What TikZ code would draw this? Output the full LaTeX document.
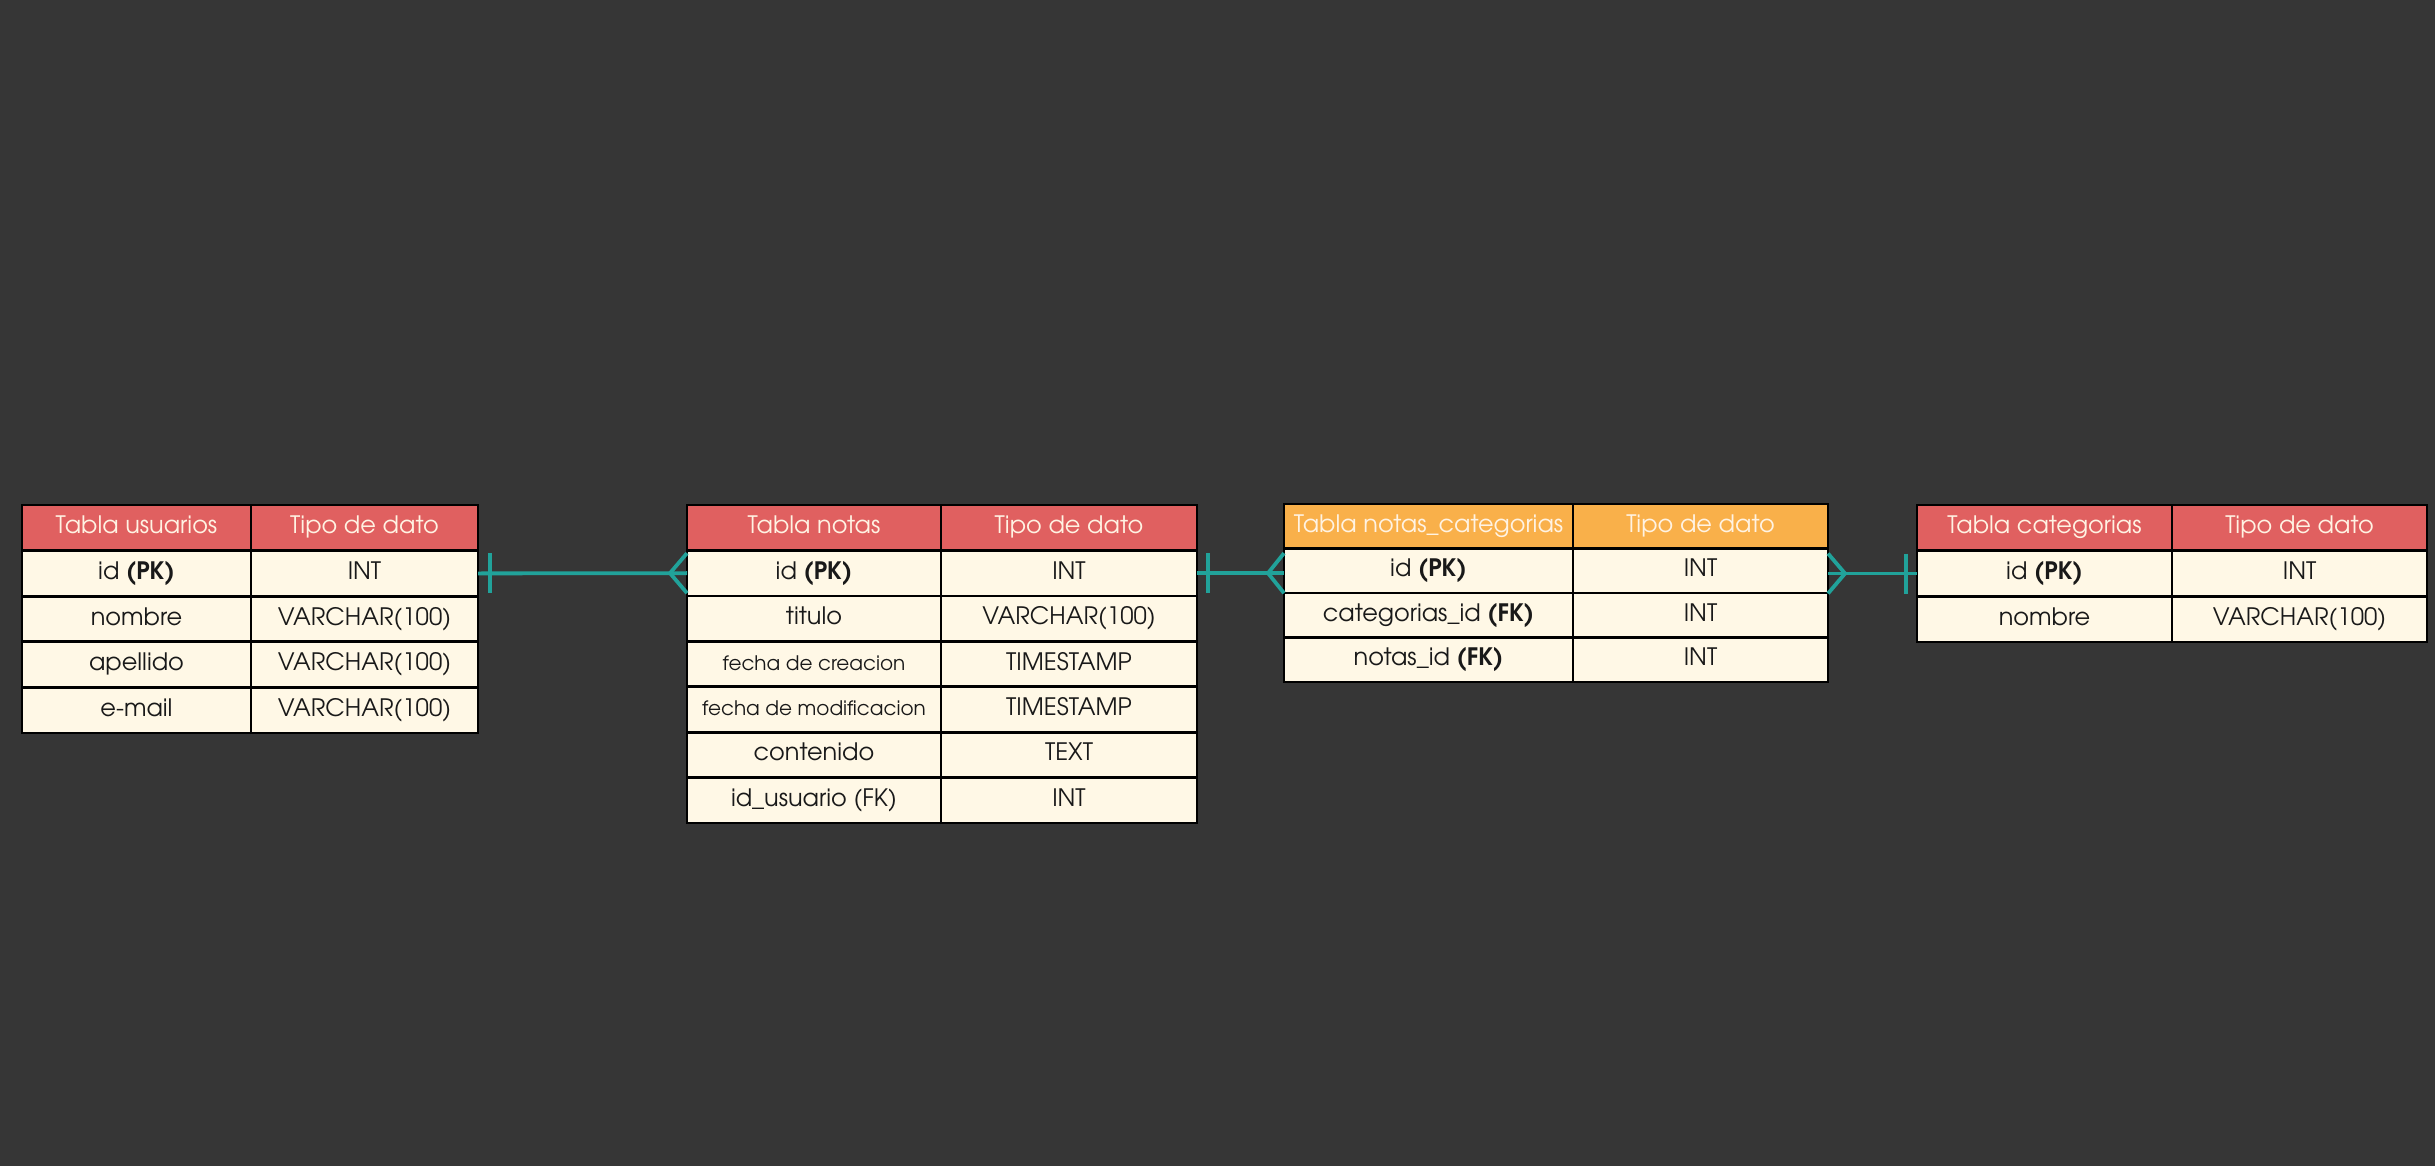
\documentclass[tikz,border=0pt]{standalone}
\usepackage{fontspec}
\setmainfont{TeX Gyre Adventor}
\definecolor{bg}{HTML}{363636}
\definecolor{hdr}{HTML}{E06060}
\definecolor{hdro}{HTML}{F9B04A}
\definecolor{cellc}{HTML}{FFF8E6}
\definecolor{htext}{HTML}{FFF3E3}
\definecolor{relc}{HTML}{21A29A}
\tikzset{
  cellbase/.style={draw=black, line width=2.7pt, inner sep=0pt, outer sep=0pt,
    anchor=north west, align=center, text height=17pt, text depth=5pt,
    font=\fontsize{24}{28}\selectfont},
  bodycell/.style={cellbase, fill=cellc, text=black!90},
  hcell/.style={cellbase, fill=hdr, text=htext},
  ocell/.style={cellbase, fill=hdro, text=htext},
  smalltxt/.style={font=\fontsize{20}{24}\selectfont},
  relline/.style={draw=relc, line width=3.8pt},
  ut/.style={minimum height=45.6pt},
  nt/.style={minimum height=45.43pt},
  ct/.style={minimum height=44.5pt},
  kt/.style={minimum height=45.67pt},
}
\begin{document}
\begin{tikzpicture}[x=1pt,y=-1pt]
\fill[bg] (0,0) rectangle (2435,1166);
\useasboundingbox (0,0) rectangle (2435,1166);

% Tabla usuarios
\node[hcell,ut,minimum width=229pt] (u0a) at (22,505) {Tabla usuarios};
\node[hcell,ut,minimum width=227pt] (u0b) at (251,505) {Tipo de dato};
\node[bodycell,ut,minimum width=229pt] (u1a) at (22,550.6) {id \textbf{(PK)}};
\node[bodycell,ut,minimum width=227pt] (u1b) at (251,550.6) {INT};
\node[bodycell,ut,minimum width=229pt] (u2a) at (22,596.2) {nombre};
\node[bodycell,ut,minimum width=227pt] (u2b) at (251,596.2) {VARCHAR(100)};
\node[bodycell,ut,minimum width=229pt] (u3a) at (22,641.8) {apellido};
\node[bodycell,ut,minimum width=227pt] (u3b) at (251,641.8) {VARCHAR(100)};
\node[bodycell,ut,minimum width=229pt] (u4a) at (22,687.4) {e-mail};
\node[bodycell,ut,minimum width=227pt] (u4b) at (251,687.4) {VARCHAR(100)};

% Tabla notas
\node[hcell,nt,minimum width=254pt] (n0a) at (687,505) {Tabla notas};
\node[hcell,nt,minimum width=256pt] (n0b) at (941,505) {Tipo de dato};
\node[bodycell,nt,minimum width=254pt] (n1a) at (687,550.43) {id \textbf{(PK)}};
\node[bodycell,nt,minimum width=256pt] (n1b) at (941,550.43) {INT};
\node[bodycell,nt,minimum width=254pt] (n2a) at (687,595.86) {titulo};
\node[bodycell,nt,minimum width=256pt] (n2b) at (941,595.86) {VARCHAR(100)};
\node[bodycell,nt,minimum width=254pt,smalltxt] (n3a) at (687,641.29) {fecha de creacion};
\node[bodycell,nt,minimum width=256pt] (n3b) at (941,641.29) {TIMESTAMP};
\node[bodycell,nt,minimum width=254pt,smalltxt] (n4a) at (687,686.72) {fecha de modificacion};
\node[bodycell,nt,minimum width=256pt] (n4b) at (941,686.72) {TIMESTAMP};
\node[bodycell,nt,minimum width=254pt] (n5a) at (687,732.15) {contenido};
\node[bodycell,nt,minimum width=256pt] (n5b) at (941,732.15) {TEXT};
\node[bodycell,nt,minimum width=254pt] (n6a) at (687,777.58) {id\_usuario (FK)};
\node[bodycell,nt,minimum width=256pt] (n6b) at (941,777.58) {INT};

% Tabla notas_categorias
\node[ocell,ct,minimum width=289pt] (c0a) at (1284,504) {Tabla notas\_categorias};
\node[ocell,ct,minimum width=255pt] (c0b) at (1573,504) {Tipo de dato};
\node[bodycell,ct,minimum width=289pt] (c1a) at (1284,548.5) {id \textbf{(PK)}};
\node[bodycell,ct,minimum width=255pt] (c1b) at (1573,548.5) {INT};
\node[bodycell,ct,minimum width=289pt] (c2a) at (1284,593) {categorias\_id \textbf{(FK)}};
\node[bodycell,ct,minimum width=255pt] (c2b) at (1573,593) {INT};
\node[bodycell,ct,minimum width=289pt] (c3a) at (1284,637.5) {notas\_id \textbf{(FK)}};
\node[bodycell,ct,minimum width=255pt] (c3b) at (1573,637.5) {INT};

% Tabla categorias
\node[hcell,kt,minimum width=255pt] (k0a) at (1917,505) {Tabla categorias};
\node[hcell,kt,minimum width=255pt] (k0b) at (2172,505) {Tipo de dato};
\node[bodycell,kt,minimum width=255pt] (k1a) at (1917,550.67) {id \textbf{(PK)}};
\node[bodycell,kt,minimum width=255pt] (k1b) at (2172,550.67) {INT};
\node[bodycell,kt,minimum width=255pt] (k2a) at (1917,596.33) {nombre};
\node[bodycell,kt,minimum width=255pt] (k2b) at (2172,596.33) {VARCHAR(100)};

% usuarios -- notas
\draw[relline] (u1b.east) -- (n1a.west);
\draw[relline] ([xshift=12pt,yshift=20pt]u1b.east) -- ([xshift=12pt,yshift=-20pt]u1b.east);
\draw[relline] ([yshift=20pt]n1a.west) -- ([xshift=-17pt]n1a.west) -- ([yshift=-20pt]n1a.west);

% notas -- notas_categorias
\coordinate (cL) at (n1b.east -| c1a.west);
\draw[relline] (n1b.east) -- (cL);
\draw[relline] ([xshift=11pt,yshift=20pt]n1b.east) -- ([xshift=11pt,yshift=-20pt]n1b.east);
\draw[relline] ([yshift=20pt]cL) -- ([xshift=-16pt]cL) -- ([yshift=-20pt]cL);

% notas_categorias -- categorias
\coordinate (cR) at (k1a.west -| c1b.east);
\draw[relline] (cR) -- (k1a.west);
\draw[relline] ([yshift=20pt]cR) -- ([xshift=17pt]cR) -- ([yshift=-20pt]cR);
\draw[relline] ([xshift=-11pt,yshift=20pt]k1a.west) -- ([xshift=-11pt,yshift=-20pt]k1a.west);
\end{tikzpicture}
\end{document}
